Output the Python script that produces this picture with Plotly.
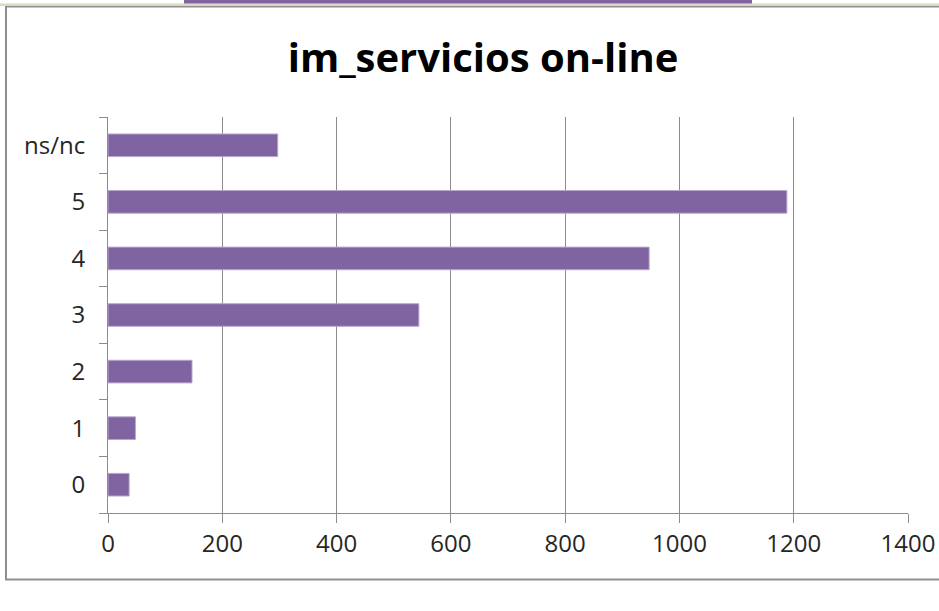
import plotly.graph_objects as go

# Survey responses for "im_servicios on-line"
categories = ["0", "1", "2", "3", "4", "5", "ns/nc"]
counts = [37, 48, 147, 544, 947, 1188, 297]
x_ticks = [0, 200, 400, 600, 800, 1000, 1200, 1400]

W, H = 939, 611
L, R, T, B = 108, 31, 117, 98
PW, PH = W - L - R, H - T - B


def px_x(px):
    return (px - L) / PW


def px_y(py):
    return (H - B - py) / PH


BAR = "#8064A2"
GRID = "#8c8c8c"
TEXT = "#262626"
FONT = "Open Sans"

fig = go.Figure(
    go.Bar(
        x=counts,
        y=categories,
        orientation="h",
        width=0.4,
        marker=dict(color=BAR, line=dict(color="#b7a7cc", width=1)),
        hoverinfo="x+y",
    )
)

fig.update_layout(
    width=W,
    height=H,
    margin=dict(l=L, r=R, t=T, b=B, autoexpand=False),
    paper_bgcolor="white",
    plot_bgcolor="white",
    showlegend=False,
    title=dict(
        text="<b>im_servicios on-line</b>",
        x=px_x(483),
        xref="paper",
        xanchor="center",
        y=1 - 58 / H,
        yref="container",
        yanchor="middle",
        font=dict(family=FONT, size=40, color="#000000"),
    ),
    xaxis=dict(
        range=[0, 1400],
        tickvals=x_ticks,
        ticktext=[str(v) for v in x_ticks],
        showgrid=True,
        gridcolor=GRID,
        gridwidth=1,
        zeroline=False,
        showline=True,
        linecolor=GRID,
        linewidth=1,
        ticks="outside",
        ticklen=9,
        tickcolor=GRID,
        tickfont=dict(family=FONT, size=24, color=TEXT),
        automargin=False,
        fixedrange=True,
    ),
    yaxis=dict(
        type="category",
        categoryorder="array",
        categoryarray=categories,
        range=[-0.5, 6.5],
        showgrid=False,
        zeroline=False,
        showline=True,
        linecolor=GRID,
        linewidth=1,
        ticks="outside",
        tickson="boundaries",
        ticklen=8,
        tickcolor=GRID,
        ticklabelstandoff=17,
        tickfont=dict(family=FONT, size=24, color=TEXT),
        automargin=False,
        fixedrange=True,
    ),
    shapes=[
        # chart area frame
        dict(type="rect", xref="paper", yref="paper",
             x0=px_x(6), x1=px_x(980), y0=px_y(579.5), y1=px_y(6.5),
             line=dict(color="#8f8f8f", width=2), fillcolor="rgba(0,0,0,0)",
             layer="below"),
        # beige strip along the top edge
        dict(type="rect", xref="paper", yref="paper",
             x0=px_x(-5), x1=px_x(960), y0=px_y(6), y1=px_y(3.5),
             line=dict(width=0), fillcolor="#dcd8c2", layer="below"),
        # purple accent bar at the very top
        dict(type="rect", xref="paper", yref="paper",
             x0=px_x(184), x1=px_x(752), y0=px_y(3.5), y1=px_y(-2),
             line=dict(width=0), fillcolor=BAR, layer="below"),
    ],
)

fig.write_html("out.html")
